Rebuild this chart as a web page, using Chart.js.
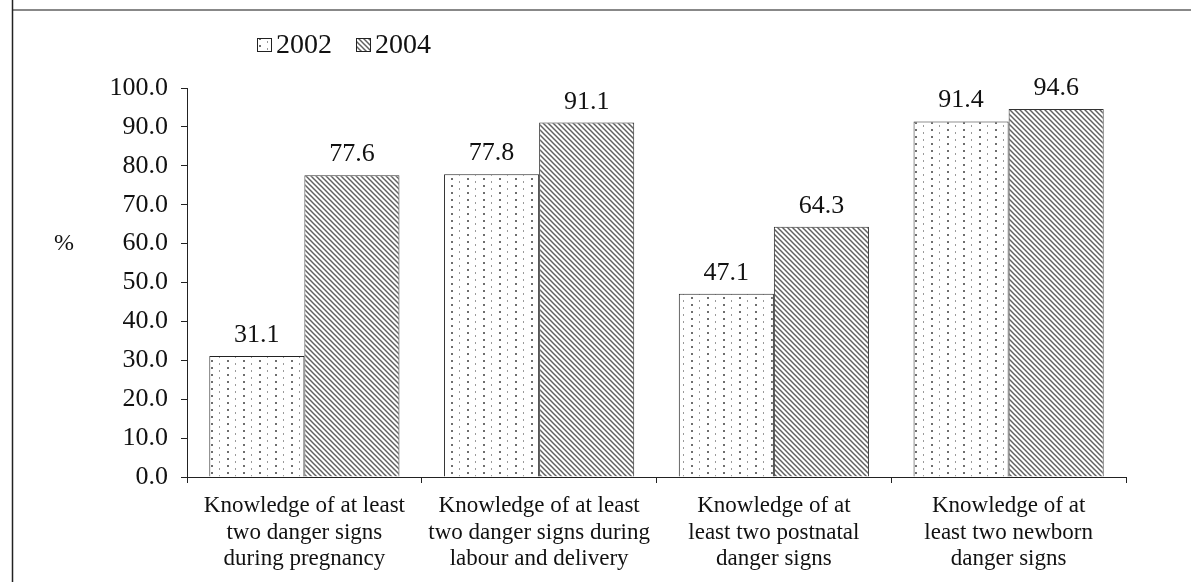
<!DOCTYPE html>
<html>
<head>
<meta charset="utf-8">
<script src="https://cdn.jsdelivr.net/npm/chart.js@4/dist/chart.umd.min.js"></script>
<style>
  html, body { margin: 0; padding: 0; background: #ffffff; }
  canvas { display: block; }
</style>
</head>
<body>
<canvas id="chart" width="1191" height="582"></canvas>
<script>
// Categories (multi-line axis labels)
const categories = [
  ['Knowledge of at least', 'two danger signs', 'during pregnancy'],
  ['Knowledge of at least', 'two danger signs during', 'labour and delivery'],
  ['Knowledge of at', 'least two postnatal', 'danger signs'],
  ['Knowledge of at', 'least two newborn', 'danger signs']
];
// Series labels
const seriesLabels = ['2002', '2004'];
// Percentages per survey year
const values2002 = [31.1, 77.8, 47.1, 91.4];
const values2004 = [77.6, 91.1, 64.3, 94.6];
// Y axis range
const yMin = 0;
const yMax = 100;
const yStep = 10;
const yTitle = '%';

const SERIF = '"Liberation Serif", "Times New Roman", serif';

// Fine dotted fill
function dottedPattern() {
  const c = document.createElement('canvas');
  c.width = 16; c.height = 14;
  const g = c.getContext('2d');
  g.fillStyle = '#ffffff';
  g.fillRect(0, 0, 16, 14);
  g.fillStyle = '#6e6e6e';
  g.fillRect(3, 3, 2, 2);
  g.fillRect(3, 10, 2, 2);
  g.fillStyle = '#9a9a9a';
  g.fillRect(11, 6, 1, 2);
  g.fillRect(11, 13, 1, 1);
  g.fillRect(11, 0, 1, 1);
  return g.createPattern(c, 'repeat');
}

// Dense diagonal stripes running top-left to bottom-right
function stripePattern() {
  const s = 5;
  const c = document.createElement('canvas');
  c.width = s; c.height = s;
  const g = c.getContext('2d');
  g.fillStyle = '#ffffff';
  g.fillRect(0, 0, s, s);
  g.strokeStyle = '#606060';
  g.lineWidth = 1.5;
  for (const off of [-s, 0, s]) {
    g.beginPath();
    g.moveTo(off - 1, -1);
    g.lineTo(off + s + 1, s + 1);
    g.stroke();
  }
  return g.createPattern(c, 'repeat');
}

const fills = [dottedPattern(), stripePattern()];

// Page frame: left rule and top rule
const framePlugin = {
  id: 'frame',
  beforeDraw(chart) {
    const ctx = chart.ctx;
    ctx.save();
    ctx.strokeStyle = '#888888';
    ctx.lineWidth = 2;
    ctx.beginPath();
    ctx.moveTo(12, 10);
    ctx.lineTo(chart.width, 10);
    ctx.stroke();
    ctx.strokeStyle = '#222222';
    ctx.lineWidth = 1.5;
    ctx.beginPath();
    ctx.moveTo(12.5, 0);
    ctx.lineTo(12.5, chart.height);
    ctx.stroke();
    ctx.restore();
  }
};

// Legend with swatches at the upper left
const legendPlugin = {
  id: 'swatchLegend',
  afterDraw(chart) {
    const ctx = chart.ctx;
    const items = [{ x: 257 }, { x: 356 }];
    ctx.save();
    ctx.font = '28px ' + SERIF;
    ctx.textBaseline = 'middle';
    ctx.textAlign = 'left';
    chart.data.datasets.forEach((ds, i) => {
      const bx = items[i].x;
      ctx.fillStyle = ds.backgroundColor;
      ctx.fillRect(bx, 38, 15, 14);
      ctx.strokeStyle = '#222222';
      ctx.lineWidth = 1;
      ctx.strokeRect(bx + 0.5, 38.5, 14, 13);
      ctx.fillStyle = '#111111';
      ctx.fillText(ds.label, bx + 19, 46);
    });
    ctx.restore();
  }
};

// Value labels above the bars and the unit label beside the y axis
const valuePlugin = {
  id: 'valueLabels',
  afterDatasetsDraw(chart) {
    const ctx = chart.ctx;
    ctx.save();
    ctx.font = '26px ' + SERIF;
    ctx.fillStyle = '#111111';
    ctx.textAlign = 'center';
    ctx.textBaseline = 'alphabetic';
    chart.data.datasets.forEach((ds, di) => {
      const meta = chart.getDatasetMeta(di);
      meta.data.forEach((bar, i) => {
        ctx.fillText(ds.data[i].toFixed(1), bar.x, bar.y - 14);
      });
    });
    ctx.font = '24px ' + SERIF;
    ctx.textBaseline = 'middle';
    ctx.fillText(yTitle, 64, chart.scales.y.getPixelForValue(60));
    ctx.restore();
  }
};

new Chart(document.getElementById('chart'), {
  type: 'bar',
  data: {
    labels: categories,
    datasets: [
      {
        label: seriesLabels[0],
        data: values2002,
        backgroundColor: fills[0],
        borderColor: '#222222',
        borderWidth: 1
      },
      {
        label: seriesLabels[1],
        data: values2004,
        backgroundColor: fills[1],
        borderColor: '#333333',
        borderWidth: 1
      }
    ]
  },
  options: {
    responsive: false,
    animation: false,
    devicePixelRatio: 1,
    layout: { padding: { top: 88, right: 65, left: 0, bottom: 0 } },
    datasets: {
      bar: { categoryPercentage: 0.81, barPercentage: 1.0 }
    },
    plugins: {
      legend: { display: false },
      tooltip: { enabled: false }
    },
    scales: {
      x: {
        grid: {
          offset: true,
          drawOnChartArea: false,
          drawTicks: true,
          tickLength: 6,
          color: '#222222'
        },
        border: { display: true, color: '#222222', width: 1 },
        ticks: {
          color: '#111111',
          font: { family: SERIF, size: 23, lineHeight: 1.15 },
          padding: 10,
          maxRotation: 0,
          autoSkip: false
        },
        afterFit(scale) { scale.height = 105; }
      },
      y: {
        min: yMin,
        max: yMax,
        grid: {
          drawOnChartArea: false,
          drawTicks: true,
          tickLength: 6,
          color: '#222222'
        },
        border: { display: true, color: '#222222', width: 1 },
        ticks: {
          stepSize: yStep,
          color: '#111111',
          font: { family: SERIF, size: 26 },
          padding: 13,
          callback: (v) => Number(v).toFixed(1)
        },
        afterFit(scale) { scale.width = 187; }
      }
    }
  },
  plugins: [framePlugin, valuePlugin, legendPlugin]
});
</script>
</body>
</html>
